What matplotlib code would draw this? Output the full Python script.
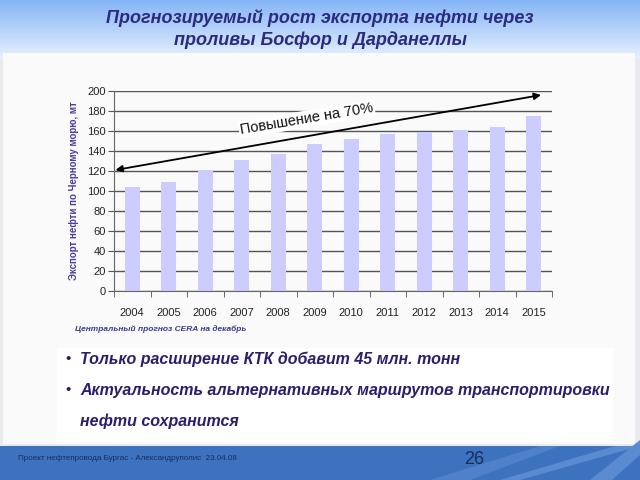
import matplotlib
matplotlib.use("Agg")
import matplotlib.pyplot as plt
import numpy as np
from matplotlib.patches import Rectangle, Polygon

plt.rcParams['font.family'] = ['Liberation Sans', 'DejaVu Sans']

years = ['2004', '2005', '2006', '2007', '2008', '2009', '2010', '2011', '2012', '2013', '2014', '2015']
values = [104, 109, 121, 131, 137, 147, 152, 157, 159, 161, 164, 175]
y_ticks = [0, 20, 40, 60, 80, 100, 120, 140, 160, 180, 200]

title = "Прогнозируемый рост экспорта нефти через\nпроливы Босфор и Дарданеллы"
ylabel = "Экспорт нефти по Черному морю, мт"
arrow_text = "Повышение на 70%"
source = "Центральный прогноз CERA на декабрь"
bullets = ["Только расширение КТК добавит 45 млн. тонн",
           "Актуальность альтернативных маршрутов транспортировки",
           "нефти сохранится"]
footer = "Проект нефтепровода Бургас - Александруполис  23.04.08"
page = "26"

fig = plt.figure(figsize=(6.4, 4.8), dpi=100)

# background decorations
bg = fig.add_axes([0, 0, 1, 1], zorder=-5)
bg.set_xlim(0, 640)
bg.set_ylim(480, 0)
bg.axis('off')
grad = np.linspace(0, 1, 100).reshape(-1, 1)
top = np.array([0.52, 0.71, 0.96])
bot = np.array([0.90, 0.94, 1.0])
img = top + (bot - top) * grad[..., None]
img = np.repeat(img, 2, axis=1)
bg.imshow(img, extent=[0, 640, 58, 0], aspect='auto', zorder=0)
bg.add_patch(Rectangle((0, 58), 640, 388, facecolor='#E8EAEE', edgecolor='none', zorder=1))
bg.add_patch(Rectangle((3, 53), 632, 391, facecolor='#FAFAFA', edgecolor='none', zorder=2))
bg.add_patch(Rectangle((57, 348), 556, 94, facecolor='#FFFFFF', edgecolor='none', zorder=3))
bg.add_patch(Rectangle((0, 446), 640, 34, facecolor='#3D72BF', edgecolor='none', zorder=3))
bg.add_patch(Polygon([(500, 480), (520, 480), (640, 446), (615, 446)], closed=True,
                     facecolor='#5A8AD0', edgecolor='none', zorder=4))
bg.add_patch(Polygon([(430, 480), (470, 480), (560, 446), (540, 446)], closed=True,
                     facecolor='#4F81CA', edgecolor='none', zorder=4))
bg.add_patch(Polygon([(590, 480), (612, 480), (640, 455), (640, 440)], closed=True,
                     facecolor='#5A8AD0', edgecolor='none', zorder=4))

# chart
ax = fig.add_axes([114/640, 1-291/480, 438/640, 200/480])
ax.set_facecolor('none')
x = np.arange(len(years))
ax.bar(x, values, width=0.42, color='#CCCCFF', zorder=2)
ax.set_xlim(-0.5, len(years) - 0.5)
ax.set_ylim(0, 200)
ax.set_yticks(y_ticks)
ax.set_xticks(x)
ax.set_xticklabels(years)
ax.set_xticks(np.arange(-0.5, len(years), 1), minor=True)
ax.tick_params(axis='x', which='major', length=0, pad=12, labelsize=8, colors='#222222')
ax.tick_params(axis='x', which='minor', length=4, direction='out', color='#555555')
ax.tick_params(axis='y', length=4, direction='out', color='#555555', labelsize=8,
               labelcolor='#222222', pad=2)
ax.yaxis.grid(True, color='#555555', linewidth=1.0, zorder=1)
ax.set_axisbelow(True)
for s in ['top', 'right']:
    ax.spines[s].set_visible(False)
for s in ['left', 'bottom']:
    ax.spines[s].set_color('#666666')
ax.set_ylabel(ylabel, fontsize=7, color='#4A3D9E', fontweight='bold', labelpad=6)

ax.annotate('', xy=(11.2, 196), xytext=(-0.46, 121),
            arrowprops=dict(arrowstyle='<|-|>', color='black', lw=1.3,
                            mutation_scale=10, shrinkA=0, shrinkB=0),
            zorder=5, annotation_clip=False)
ax.text(4.78, 172, arrow_text, rotation=9.5, ha='center', va='center', fontsize=10.5,
        color='#111111', zorder=6,
        bbox=dict(boxstyle='square,pad=0.1', facecolor='white', edgecolor='none'))

# texts
fig.text(0.5, 1-29/480, title, ha='center', va='center', fontsize=13,
         fontweight='bold', fontstyle='italic', color='#2B2A80', linespacing=1.25)
fig.text(75/640, 1-329/480, source, ha='left', va='center', fontsize=6,
         fontweight='bold', fontstyle='italic', color='#3A3A90')
ys = [359, 390, 421]
for i, (t, yy) in enumerate(zip(bullets, ys)):
    if i < 2:
        fig.text(65/640, 1-yy/480, '•', ha='left', va='center', fontsize=11,
                 color='#2A1F6E')
    fig.text(80/640, 1-yy/480, t, ha='left', va='center', fontsize=11.5,
             fontweight='bold', fontstyle='italic', color='#2A1F6E')
fig.text(18/640, 1-459/480, footer, ha='left', va='center', fontsize=5.8,
         color='#1A2D5A')
fig.text(474/640, 1-459/480, page, ha='center', va='center', fontsize=13,
         color='#1A2D5A')

fig.savefig('out.png', dpi=100)
